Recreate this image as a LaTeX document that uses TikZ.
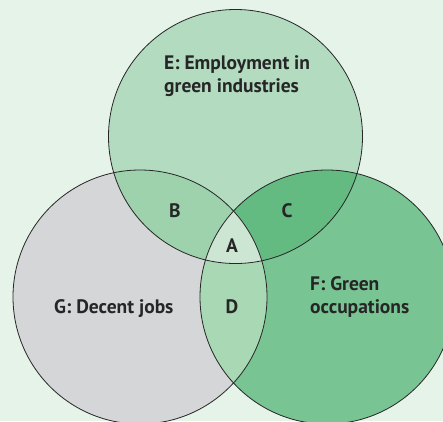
\documentclass[tikz,border=0pt]{standalone}
\usepackage{fontspec}
\setmainfont{PT Sans}
\begin{document}
\begin{tikzpicture}[x=1pt,y=-1pt,
  lbl/.style={font=\bfseries\fontsize{19.5}{22.7}\selectfont, text=black!85, inner sep=0pt},
  ring/.style={draw=black!85, line width=0.8pt}]
\definecolor{bg}{HTML}{E6F3E8}
\definecolor{cE}{HTML}{B2DBBF}
\definecolor{cG}{HTML}{D5D6D8}
\definecolor{cF}{HTML}{78C493}
\definecolor{cB}{HTML}{9DD2AD}
\definecolor{cC}{HTML}{63BB82}
\definecolor{cD}{HTML}{A9D8B5}
\definecolor{cA}{HTML}{CDE6D3}
\fill[bg] (0,0) rectangle (443,421);
\useasboundingbox (0,0) rectangle (443,421);
\begin{scope}
\clip (0,0) rectangle (443,421);
\coordinate (E) at (235.5,136.5);
\coordinate (G) at (140,297);
\coordinate (F) at (327,297);
\def\R{127}
\fill[cE] (E) circle (\R);
\fill[cG] (G) circle (\R);
\fill[cF] (F) circle (\R);
\begin{scope}\clip (E) circle (\R); \fill[cB] (G) circle (\R); \end{scope}
\begin{scope}\clip (E) circle (\R); \fill[cC] (F) circle (\R); \end{scope}
\begin{scope}\clip (G) circle (\R); \fill[cD] (F) circle (\R); \end{scope}
\begin{scope}\clip (G) circle (\R); \clip (F) circle (\R); \fill[cA] (E) circle (\R); \end{scope}
\draw[ring] (E) circle (\R);
\draw[ring] (G) circle (\R);
\draw[ring] (F) circle (\R);
\end{scope}
\node[lbl, anchor=base west, align=left] (tE) at (164,92) {E: Employment in\\green industries};
\node[lbl, anchor=base west] (tG) at (54,313) {G: Decent jobs};
\node[lbl, anchor=base west, align=left] (tF) at (310,313) {F: Green\\occupations};
\node[lbl, anchor=base] (tB) at (175,217) {B};
\node[lbl, anchor=base] (tC) at (287,217) {C};
\node[lbl, anchor=base] (tA) at (232,252) {A};
\node[lbl, anchor=base] (tD) at (232,313) {D};
\end{tikzpicture}
\end{document}
